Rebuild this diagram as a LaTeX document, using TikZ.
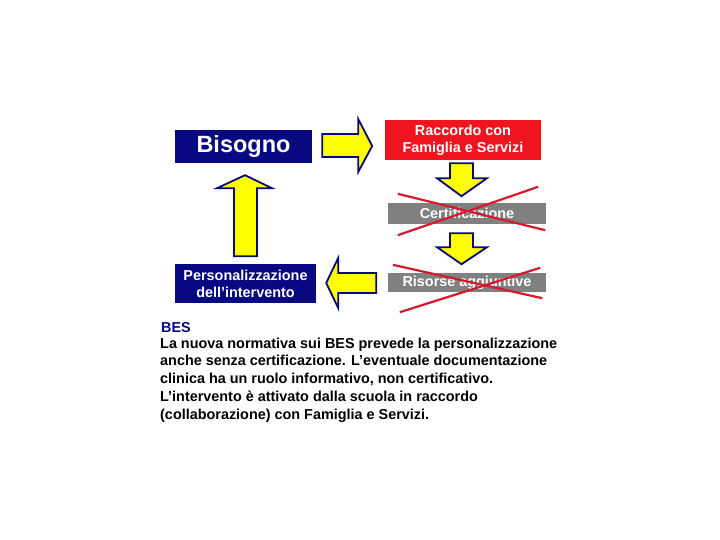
\documentclass[tikz,border=0pt]{standalone}
\usepackage{fontspec}
\setmainfont{Liberation Sans}
\usetikzlibrary{calc}

\definecolor{blu}{RGB}{8,8,128}
\definecolor{rosso}{RGB}{240,20,30}
\definecolor{grigio}{RGB}{128,128,128}
\definecolor{giallo}{RGB}{255,255,0}
\definecolor{croce}{RGB}{215,25,45}

\begin{document}
\begin{tikzpicture}[x=1pt,y=-1pt,
    box/.style={rectangle,inner sep=0pt,text=white,align=center,
        font=\fontsize{14.4}{17}\selectfont\bfseries},
    freccia/.style={draw=blu,fill=giallo,line width=1.8pt,line join=miter},
    barra/.style={croce,line width=2.2pt}]

\useasboundingbox[fill=white] (0,0) rectangle (720,540);

% Riquadri del ciclo
\node[box,fill=blu,minimum width=137,minimum height=33,
    font=\fontsize{23.5}{28}\selectfont\bfseries] (bisogno) at (243.5,146.5) {Bisogno};
\node[box,fill=rosso,minimum width=156,minimum height=40] (raccordo) at (463,140)
    {Raccordo con\\Famiglia e Servizi};
\node[box,fill=grigio,minimum width=158,minimum height=21] (certificazione) at (467,213.5)
    {Certificazione};
\node[box,fill=grigio,minimum width=158,minimum height=19] (risorse) at (467,282.5)
    {Risorse aggiuntive};
\node[box,fill=blu,minimum width=141,minimum height=39] (personalizzazione) at (245.5,283.5)
    {Personalizzazione\\dell’intervento};

% Freccia verso destra
\draw[freccia] ($(bisogno.east)+(10,-0.5)$) ++(0,-12) -- ++(36,0) -- ++(0,-15)
    -- ++(14,27) -- ++(-14,26) -- ++(0,-15) -- ++(-36,0) -- cycle;

% Frecce verso il basso
\draw[freccia] ($(raccordo.south)+(-13,3)$) -- ++(23,0) -- ++(0,15) -- ++(14,0)
    -- ++(-25.5,18) -- ++(-24.5,-18) -- ++(13,0) -- cycle;
\draw[freccia] ($(certificazione.south)+(-17,9)$) -- ++(23,0) -- ++(0,14) -- ++(14,0)
    -- ++(-25.5,17) -- ++(-24.5,-17) -- ++(13,0) -- cycle;

% Freccia verso sinistra
\draw[freccia] ($(personalizzazione.east)+(10,-0.5)$) -- ++(12,-25) -- ++(0,15)
    -- ++(38,0) -- ++(0,20) -- ++(-38,0) -- ++(0,15) -- cycle;

% Freccia verso l'alto
\draw[freccia] ($(bisogno.south)+(1.5,12)$) -- ++(27,13) -- ++(-15,0) -- ++(0,68)
    -- ++(-23,0) -- ++(0,-68) -- ++(-17,0) -- cycle;

% Croci rosse
\draw[barra] ($(certificazione.north west)+(10,-9)$) -- ($(certificazione.south east)+(-1,6)$);
\draw[barra] ($(certificazione.south west)+(10,11)$) -- ($(certificazione.north east)+(-8,-16)$);
\draw[barra] ($(risorse.north west)+(5,-8)$) -- ($(risorse.south east)+(-4,6)$);
\draw[barra] ($(risorse.south west)+(12,20)$) -- ($(risorse.north east)+(-6,-5)$);

% Testo
\node[anchor=base west,inner sep=0pt,text=blu,
    font=\fontsize{14.4}{17}\selectfont\bfseries] (bes) at (161,332) {BES};
\node[anchor=base west,inner sep=0pt,align=left,
    font=\fontsize{14.4}{17.8}\selectfont\bfseries] (testo) at (160,419.2)
    {La nuova normativa sui BES prevede la personalizzazione\\
     anche senza certificazione. L’eventuale documentazione\\
     clinica ha un ruolo informativo, non certificativo.\\
     L’intervento è attivato dalla scuola in raccordo\\
     (collaborazione) con Famiglia e Servizi.};

\end{tikzpicture}
\end{document}
